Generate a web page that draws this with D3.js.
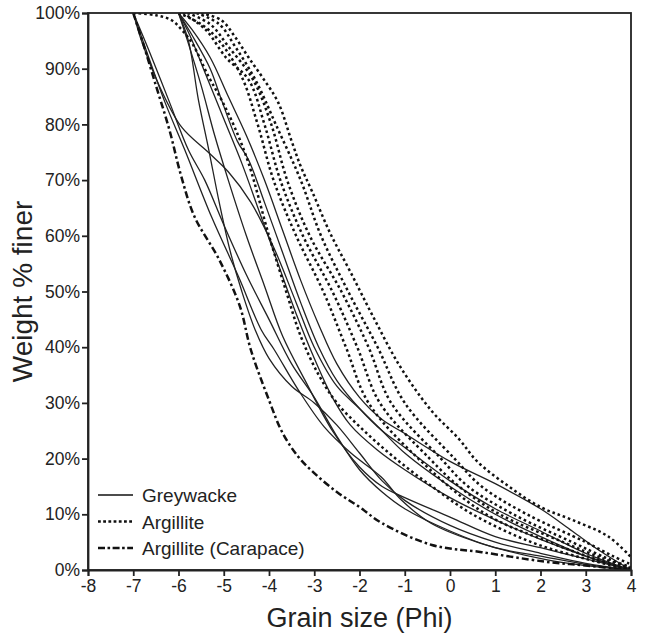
<!DOCTYPE html>
<html>
<head>
<meta charset="utf-8">
<script src="https://cdn.jsdelivr.net/npm/d3@7"></script>
<style>
  body { margin: 0; background: #fff; }
  text { font-family: "Liberation Sans", Arial, sans-serif; fill: #222; }
</style>
</head>
<body>
<div id="chart"></div>
<script>
// x ticks (phi) and y ticks (%)
var phiTicks = [-8, -7, -6, -5, -4, -3, -2, -1, 0, 1, 2, 3, 4];
var pctTicks = [0, 10, 20, 30, 40, 50, 60, 70, 80, 90, 100];

// Greywacke curves, [phi, weight % finer]
var greywacke = [
  [[-7,100],[-6.7,93],[-6.3,84],[-5.86,75.4],[-5.27,63.4],[-4.67,52.6],[-4.17,43.1],[-3.88,39.5],[-3.35,32.3],[-2.78,25.7],[-2.19,21],[-1.52,16.7],[-1.08,12.6],[-0.42,8.4],[0.68,4.8],[2.15,1.8],[3,0.8],[4,0]],
  [[-7,100],[-6.8,94.6],[-6.4,86.5],[-5.93,79.5],[-5.33,74.9],[-4.9,71.5],[-4.4,66],[-3.9,58],[-3.4,48],[-3,40],[-2.5,33],[-2,29],[-1.5,25],[-1,21],[0,15],[1,10],[2,6],[3,2.5],[4,0]],
  [[-7,100],[-6.66,93.4],[-6.2,84],[-5.78,75.4],[-5.42,70],[-5,62],[-4.5,53],[-4,45],[-3.5,37],[-3,31],[-2.5,24],[-2,18],[-1.5,14],[-1,11],[0,7],[1,4],[2,2.5],[3,1],[4,0]],
  [[-6,100],[-5.78,95],[-5.56,84.4],[-5.33,75.4],[-5.1,66],[-4.85,57],[-4.6,50],[-4.3,43],[-4,38],[-3.5,33],[-3,30],[-2.5,26],[-2,21],[-1.5,16],[-1,12.5],[0,8],[1,5],[2,3],[3,1.2],[4,0]],
  [[-6,100],[-5.7,96],[-5.3,90],[-5.05,84.4],[-4.7,77],[-4.45,73.6],[-4.1,66],[-3.7,57],[-3.3,48],[-2.9,40],[-2.5,34],[-2,29],[-1.5,25],[-1,22],[0,16],[1,11],[2,7],[3,3],[4,0]],
  [[-6,100],[-5.7,97],[-5.3,92],[-4.9,85],[-4.5,78],[-4.1,70],[-3.7,61],[-3.3,52],[-2.9,44],[-2.5,37],[-2,31],[-1.5,27],[-1,24.5],[0,19.5],[1,15.5],[2,11],[2.7,7],[3.3,3.5],[4,0]],
  [[-6,100],[-5.75,96],[-5.4,89],[-5,81],[-4.6,73],[-4.2,64],[-3.8,55],[-3.4,46],[-3,38],[-2.6,31],[-2.2,26],[-1.6,21.5],[-1,18],[0,13],[1,9],[2,5.5],[3,2.5],[4,0]],
  [[-6,100],[-5.8,95],[-5.5,87],[-5.2,78],[-4.9,70],[-4.5,60],[-4.1,51],[-3.7,42],[-3.2,34],[-2.6,25],[-2,18.5],[-1.5,15],[-1,13],[0,9.5],[1,6],[2,4],[3,2],[4,0]]
];

// Argillite curves
var argillite = [
  [[-7,100],[-6.5,99.6],[-6.15,98.7],[-5.93,97],[-5.7,94.6],[-5.33,88.5],[-5.05,84.4],[-4.76,79.5],[-4.45,73],[-4,60],[-3.62,50],[-3.3,42],[-2.9,35],[-2.5,30],[-1.9,25],[-1.2,20],[-0.4,15],[0.5,10],[1.8,5],[3,2],[4,0]],
  [[-6,100],[-5.5,98],[-5.1,95],[-4.6,88.5],[-4.25,80],[-3.9,70],[-3.4,60],[-2.8,50],[-2.3,40],[-1.8,30],[-0.7,20],[0.8,10],[2.2,5],[3.2,2],[4,0]],
  [[-5.9,100],[-5.4,97],[-4.95,92],[-4.45,88],[-4.1,80],[-3.75,70],[-3.25,60],[-2.6,50],[-2.05,40],[-1.55,30],[-0.45,20],[0.2,15],[1.1,10],[2.5,5],[3.4,2],[4,0.3]],
  [[-5.8,100],[-5.3,98],[-4.9,94],[-4.35,88],[-3.95,80],[-3.6,70],[-3.1,60],[-2.4,50],[-1.8,40],[-1.3,30],[-0.2,20],[0.4,15],[1.4,10],[2.7,5],[3.5,2],[4,0.5]],
  [[-5.6,100],[-5.1,98],[-4.75,94],[-4.3,88],[-3.85,80],[-3.3,70],[-2.85,60],[-2.25,50],[-1.6,40],[-1.0,30],[0.1,20],[0.7,15],[1.7,10],[3.0,5],[3.6,2.5],[4,1]],
  [[-5.5,100],[-5.05,98.7],[-4.75,95.7],[-4.45,92],[-4.15,88.5],[-3.8,84],[-3.5,77],[-3.3,72.5],[-3.05,68],[-2.65,60.5],[-2.2,53.5],[-1.7,45.5],[-1.1,36.5],[-0.4,28.5],[0.2,23.5],[0.6,19.5],[1.3,15],[2,11.3],[2.7,9],[3.5,6],[4,2.3]]
];

// Argillite (Carapace)
var carapace = [[-7,100],[-6.8,95],[-6.5,87],[-6.2,79],[-5.95,71],[-5.65,63.5],[-5.1,55.7],[-4.65,47.5],[-4.4,39.5],[-4.0,30.5],[-3.7,24.6],[-3.35,20.3],[-3.0,17.4],[-2.5,14],[-2,11.3],[-1.5,8.4],[-0.4,4.5],[0.7,3.2],[2.1,1.5],[3,0.8],[4,0]];

var legendItems = [
  {name: "Greywacke", dash: null, width: 1.4},
  {name: "Argillite", dash: "2.8,2.4", width: 2.6},
  {name: "Argillite (Carapace)", dash: "7,2.5,2.6,2.5", width: 2.6}
];

var margin = {top: 13, right: 14, bottom: 64, left: 88},
    W = 645, H = 634,
    width = W - margin.left - margin.right,
    height = H - margin.top - margin.bottom;

var svg = d3.select("#chart").append("svg")
    .attr("width", W)
    .attr("height", H);

var g = svg.append("g")
    .attr("transform", "translate(" + margin.left + "," + margin.top + ")");

var x = d3.scaleLinear().domain([-8, 4]).range([0, width]);
var y = d3.scaleLinear().domain([0, 100]).range([height, 0]);

var line = d3.line()
    .x(function(d) { return x(d[0]); })
    .y(function(d) { return y(d[1]); })
    .curve(d3.curveCatmullRom.alpha(0.5));

g.append("defs").append("clipPath").attr("id", "clip")
  .append("rect").attr("width", width).attr("height", height);

var plot = g.append("g").attr("clip-path", "url(#clip)");

greywacke.forEach(function(s) {
  plot.append("path").datum(s)
    .attr("d", line)
    .attr("fill", "none")
    .attr("stroke", "#222")
    .attr("stroke-width", 1.3);
});

argillite.forEach(function(s) {
  plot.append("path").datum(s)
    .attr("d", line)
    .attr("fill", "none")
    .attr("stroke", "#111")
    .attr("stroke-width", 2.5)
    .attr("stroke-dasharray", "2.6,2.9");
});

plot.append("path").datum(carapace)
  .attr("d", line)
  .attr("fill", "none")
  .attr("stroke", "#111")
  .attr("stroke-width", 2.5)
  .attr("stroke-dasharray", "7,3,2.5,3");

// frame
g.append("rect")
  .attr("width", width).attr("height", height)
  .attr("fill", "none").attr("stroke", "#222").attr("stroke-width", 1.8);

var xAxis = d3.axisBottom(x).tickValues(phiTicks).tickSize(6).tickPadding(4)
    .tickFormat(function(d) { return d; });
var yAxis = d3.axisLeft(y).tickValues(pctTicks).tickSize(6).tickPadding(2)
    .tickFormat(function(d) { return d + "%"; });

var gx = g.append("g").attr("transform", "translate(0," + height + ")").call(xAxis);
var gy = g.append("g").call(yAxis);

[gx, gy].forEach(function(a) {
  a.select(".domain").attr("stroke", "#222").attr("stroke-width", 1.8);
  a.selectAll(".tick line").attr("stroke", "#222").attr("stroke-width", 1.8);
  a.selectAll(".tick text")
    .attr("font-family", "Liberation Sans, Arial, sans-serif")
    .attr("font-size", 17.5).attr("fill", "#222");
});

svg.append("text")
  .attr("x", margin.left + width / 2)
  .attr("y", 627)
  .attr("text-anchor", "middle")
  .attr("font-size", 27)
  .text("Grain size (Phi)");

svg.append("text")
  .attr("transform", "translate(32," + (margin.top + height / 2) + ") rotate(-90)")
  .attr("text-anchor", "middle")
  .attr("font-size", 28)
  .text("Weight % finer");

// legend
var legend = g.append("g").attr("transform", "translate(10," + (495 - margin.top) + ")");
legendItems.forEach(function(d, i) {
  var row = legend.append("g").attr("transform", "translate(0," + (i * 26.5) + ")");
  row.append("line")
    .attr("x1", 0).attr("x2", 35).attr("y1", 0).attr("y2", 0)
    .attr("stroke", "#111")
    .attr("stroke-width", d.width)
    .attr("stroke-dasharray", d.dash);
  row.append("text")
    .attr("x", 44).attr("y", 7)
    .attr("font-size", 19)
    .text(d.name);
});
</script>
</body>
</html>
